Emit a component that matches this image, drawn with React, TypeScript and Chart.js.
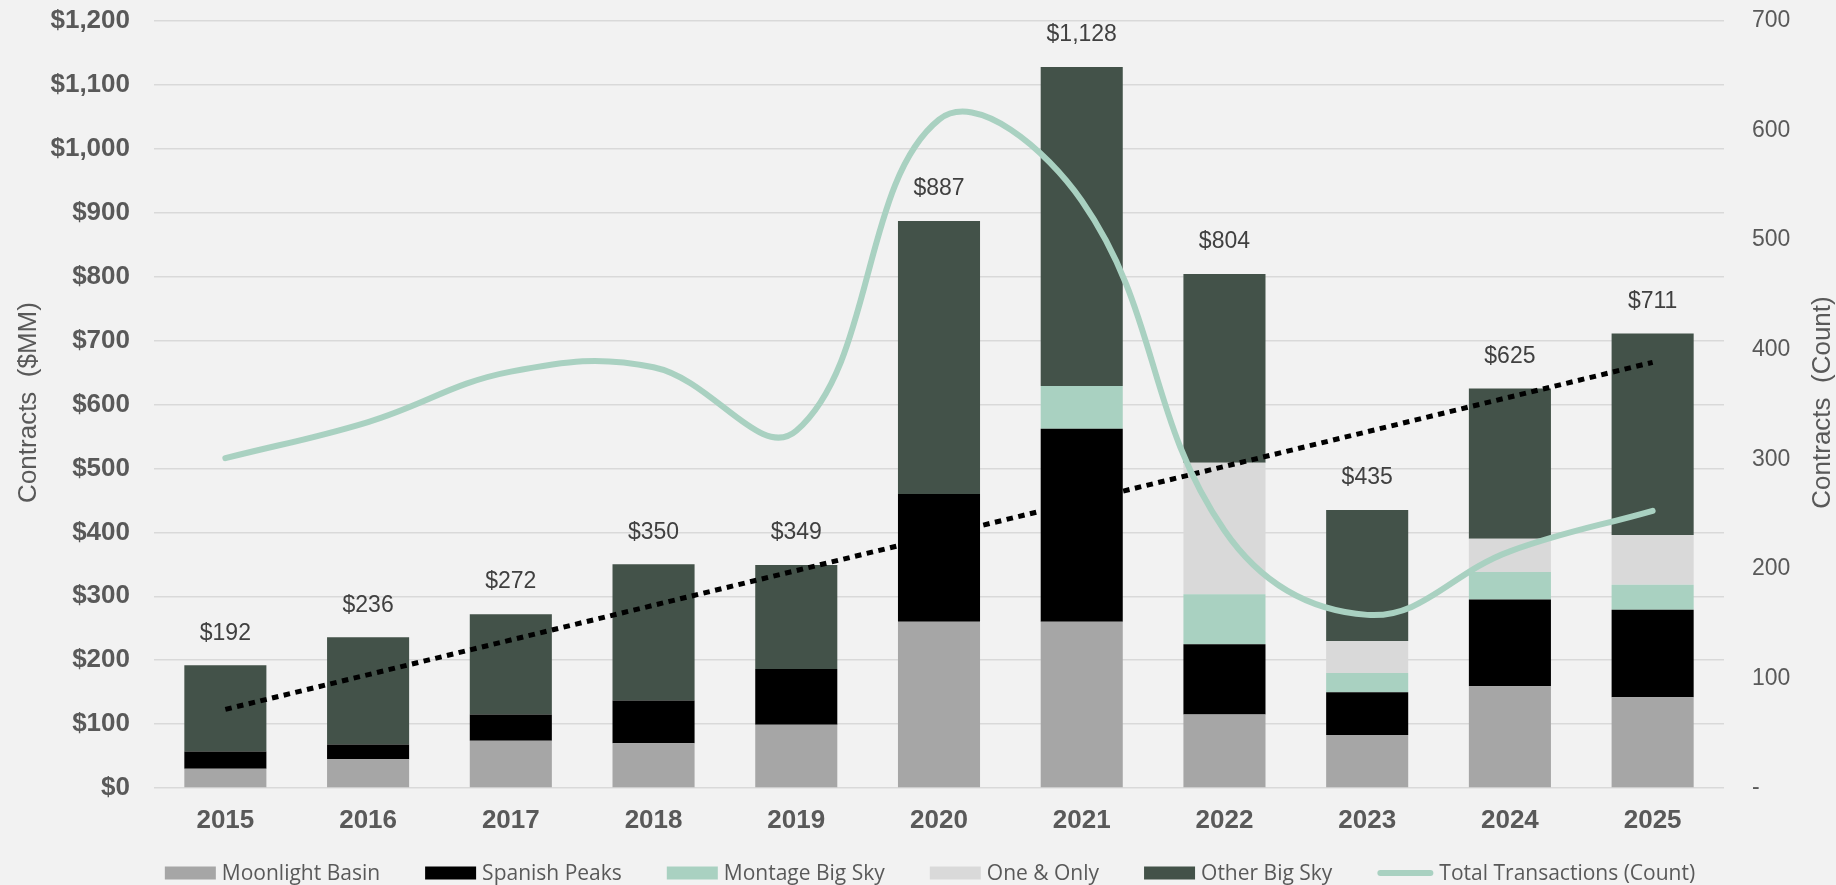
import React, { useEffect, useRef } from 'react';
import { Chart, registerables } from 'chart.js';

Chart.register(...registerables);

// ---- Data ----
const years = ['2015', '2016', '2017', '2018', '2019', '2020', '2021', '2022', '2023', '2024', '2025'];
const moonlightBasin = [30, 45, 74, 70, 99, 260, 260, 115, 83, 159, 142];
const spanishPeaks = [27, 23, 41, 67, 87, 200, 302, 110, 67, 136, 137];
const montageBigSky = [0, 0, 0, 0, 0, 0, 67, 78, 30, 43, 39];
const oneAndOnly = [0, 0, 0, 0, 0, 0, 0, 206, 50, 52, 78];
const otherBigSky = [135, 168, 157, 213, 163, 427, 499, 295, 205, 235, 315];
const totalTransactions = [301, 334, 380, 384, 326, 610, 536, 235, 158, 216, 253];
const trendValues = [123, null, null, null, null, null, null, null, null, null, 666];

const leftTicks = [0, 100, 200, 300, 400, 500, 600, 700, 800, 900, 1000, 1100, 1200];
const rightTicks = [0, 100, 200, 300, 400, 500, 600, 700];

const seriesNames = ['Moonlight Basin', 'Spanish Peaks', 'Montage Big Sky', 'One & Only', 'Other Big Sky', 'Total Transactions (Count)'];
const seriesColors = ['#a6a6a6', '#000000', '#a9d1c1', '#d9d9d9', '#435249', '#a9d1c1'];

const W = 1836;
const H = 885;
const SANS = '"Liberation Sans", Arial, sans-serif';
const LEGEND_FONT = '"Open Sans", "Noto Sans", sans-serif';

const backgroundPlugin = {
  id: 'bg',
  beforeDraw(chart: any) {
    const ctx = chart.ctx;
    ctx.save();
    ctx.fillStyle = '#f2f2f2';
    ctx.fillRect(0, 0, chart.width, chart.height);
    ctx.restore();
  },
};

const totalsPlugin = {
  id: 'totals',
  afterDatasetsDraw(chart: any) {
    const ctx = chart.ctx;
    const meta = chart.getDatasetMeta(4);
    ctx.save();
    ctx.font = `23px ${SANS}`;
    ctx.fillStyle = '#404040';
    ctx.textAlign = 'center';
    ctx.textBaseline = 'middle';
    years.forEach((_, i) => {
      const el = meta.data[i];
      if (!el) return;
      const total = moonlightBasin[i] + spanishPeaks[i] + montageBigSky[i] + oneAndOnly[i] + otherBigSky[i];
      ctx.fillText('$' + total.toLocaleString('en-US'), el.x, el.y - 32);
    });
    ctx.restore();
  },
};

const axisTitlePlugin = {
  id: 'axisTitles',
  afterDraw(chart: any) {
    const ctx = chart.ctx;
    const { top, bottom } = chart.chartArea;
    const cy = (top + bottom) / 2 - 2;
    ctx.save();
    ctx.font = `26px ${SANS}`;
    ctx.fillStyle = '#595959';
    ctx.textAlign = 'center';
    ctx.textBaseline = 'middle';
    ctx.save();
    ctx.translate(29, cy);
    ctx.rotate(-Math.PI / 2);
    ctx.fillText('Contracts  ($MM)', 0, 0);
    ctx.restore();
    ctx.save();
    ctx.translate(1823, cy);
    ctx.rotate(-Math.PI / 2);
    ctx.fillText('Contracts  (Count)', 0, 0);
    ctx.restore();
    ctx.restore();
  },
};

const legendPlugin = {
  id: 'customLegend',
  afterDraw(chart: any) {
    const ctx = chart.ctx;
    ctx.save();
    ctx.font = `21px ${LEGEND_FONT}`;
    const boxW = 51;
    const boxH = 13;
    const lineSymW = 56;
    const gapText = 6;
    const gapItem = 45;
    const widths = seriesNames.map((name, i) => {
      const sym = i === 5 ? lineSymW : boxW;
      return sym + gapText + ctx.measureText(name).width;
    });
    const total = widths.reduce((a, b) => a + b, 0) + gapItem * (seriesNames.length - 1);
    let x = 930 - total / 2;
    const cy = 873;
    ctx.textBaseline = 'middle';
    ctx.textAlign = 'left';
    seriesNames.forEach((name, i) => {
      if (i === 5) {
        ctx.strokeStyle = seriesColors[i];
        ctx.lineWidth = 6;
        ctx.lineCap = 'round';
        ctx.beginPath();
        ctx.moveTo(x + 3, cy);
        ctx.lineTo(x + lineSymW - 3, cy);
        ctx.stroke();
        x += lineSymW + gapText;
      } else {
        ctx.fillStyle = seriesColors[i];
        ctx.fillRect(x, cy - boxH / 2, boxW, boxH);
        x += boxW + gapText;
      }
      ctx.fillStyle = '#595959';
      ctx.fillText(name, x, cy + 1);
      x += ctx.measureText(name).width + gapItem;
    });
    ctx.restore();
  },
};

export default function App() {
  const canvasRef = useRef<HTMLCanvasElement | null>(null);

  useEffect(() => {
    document.body.style.margin = '0';
    document.body.style.background = '#f2f2f2';
    const canvas = canvasRef.current;
    if (!canvas) return;

    const barCommon = {
      type: 'bar' as const,
      stack: 'contracts',
      yAxisID: 'y',
      order: 2,
      barPercentage: 0.575,
      categoryPercentage: 1,
      borderWidth: 0,
    };

    const chart = new Chart(canvas, {
      type: 'bar',
      data: {
        labels: years,
        datasets: [
          { ...barCommon, label: seriesNames[0], data: moonlightBasin, backgroundColor: seriesColors[0] },
          { ...barCommon, label: seriesNames[1], data: spanishPeaks, backgroundColor: seriesColors[1] },
          { ...barCommon, label: seriesNames[2], data: montageBigSky, backgroundColor: seriesColors[2] },
          { ...barCommon, label: seriesNames[3], data: oneAndOnly, backgroundColor: seriesColors[3] },
          { ...barCommon, label: seriesNames[4], data: otherBigSky, backgroundColor: seriesColors[4] },
          {
            type: 'line',
            label: seriesNames[5],
            data: totalTransactions,
            yAxisID: 'y1',
            borderColor: seriesColors[5],
            backgroundColor: seriesColors[5],
            borderWidth: 6,
            pointRadius: 0,
            tension: 0.4,
            fill: false,
            order: 0,
            borderCapStyle: 'round',
          } as any,
          {
            type: 'line',
            label: 'Trend',
            data: trendValues,
            yAxisID: 'y',
            stack: 'trend',
            borderColor: '#000000',
            borderWidth: 5,
            borderDash: [6.5, 5.5],
            borderCapStyle: 'butt',
            pointRadius: 0,
            spanGaps: true,
            fill: false,
            order: 1,
          } as any,
        ],
      },
      options: {
        responsive: false,
        animation: false,
        devicePixelRatio: 1,
        layout: { padding: { top: 21, bottom: 0, left: 0, right: 0 } },
        plugins: {
          legend: { display: false },
          tooltip: { enabled: false },
        },
        scales: {
          x: {
            stacked: true,
            grid: { display: false },
            border: { display: false },
            ticks: {
              color: '#595959',
              font: { family: SANS, size: 26, weight: 'bold' },
              padding: 9,
            },
            afterFit(scale: any) {
              scale.height = 97;
            },
          },
          y: {
            stacked: true,
            position: 'left',
            min: 0,
            max: 1200,
            afterBuildTicks(scale: any) {
              scale.ticks = leftTicks.map((v) => ({ value: v }));
            },
            grid: { color: '#d9d9d9', lineWidth: 1.5, drawTicks: true, tickLength: 24, tickColor: 'rgba(0,0,0,0)' },
            border: { display: false },
            ticks: {
              color: '#595959',
              font: { family: SANS, size: 26, weight: 'bold' },
              padding: 0,
              callback: (v: any) => '$' + Number(v).toLocaleString('en-US'),
            },
            afterFit(scale: any) {
              scale.width = 154;
            },
          },
          y1: {
            position: 'right',
            min: 0,
            max: 700,
            afterBuildTicks(scale: any) {
              scale.ticks = rightTicks.map((v) => ({ value: v }));
            },
            grid: { display: false, drawTicks: true, tickLength: 28 },
            border: { display: false },
            ticks: {
              color: '#595959',
              font: { family: SANS, size: 23 },
              padding: 0,
              callback: (v: any) => (Number(v) === 0 ? '-' : String(v)),
            },
            afterFit(scale: any) {
              scale.width = 112;
            },
          },
        },
      } as any,
      plugins: [backgroundPlugin, totalsPlugin, axisTitlePlugin, legendPlugin],
    });

    return () => {
      chart.destroy();
    };
  }, []);

  return (
    <div style={{ width: W, height: H, background: '#f2f2f2', overflow: 'hidden' }}>
      <canvas ref={canvasRef} width={W} height={H} style={{ display: 'block', width: W, height: H }} />
    </div>
  );
}
